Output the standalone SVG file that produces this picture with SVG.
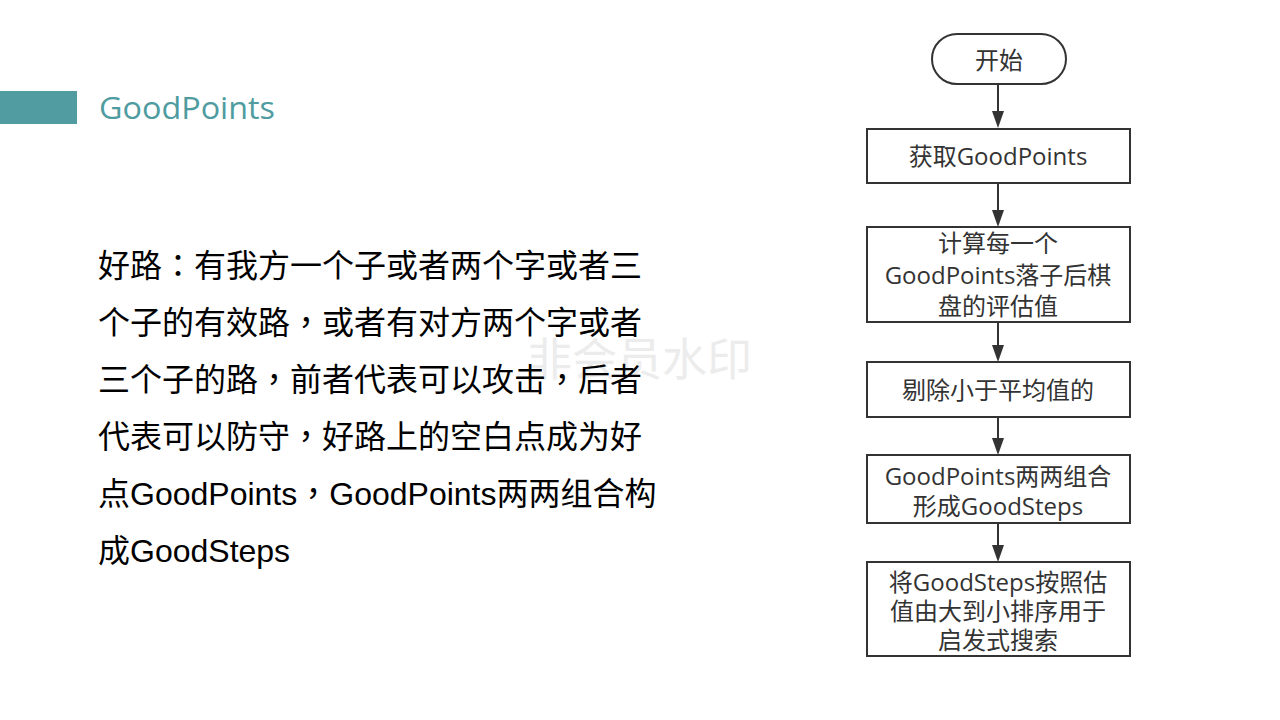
<svg xmlns="http://www.w3.org/2000/svg" width="1280" height="720" viewBox="0 0 1280 720">
<defs>
<style>
.body{font-family:"Liberation Sans","Noto Sans CJK SC",sans-serif;font-size:32px;fill:#000}
.p{font-family:"Noto Sans CJK TC",sans-serif}
.title{font-family:"Open Sans","Noto Sans CJK SC",sans-serif;font-size:31px;fill:#4f9ca0}
.wm{font-family:"Noto Sans CJK SC",sans-serif;font-size:45px;fill:#ececec}
.box{fill:#fff;stroke:#333;stroke-width:2}
.lbl{font-family:"Open Sans","Noto Sans CJK SC",sans-serif;font-size:24px;fill:#333;text-anchor:middle}
.edge{stroke:#333;stroke-width:2;fill:none}
.head{fill:#333}
</style>
</defs>
<rect x="0" y="0" width="1280" height="720" fill="#fff"/>
<g id="header">
<rect x="0" y="91" width="77" height="33" fill="#519ca0"/>
<text class="title" x="99" y="119" textLength="176" lengthAdjust="spacingAndGlyphs">GoodPoints</text>
</g>
<text class="wm" x="527" y="376">非会员水印</text>
<g id="description">
<text class="body" x="98" y="277">好路<tspan class="p">：</tspan>有我方一个子或者两个字或者三</text>
<text class="body" x="98" y="334">个子的有效路<tspan class="p">，</tspan>或者有对方两个字或者</text>
<text class="body" x="98" y="391">三个子的路<tspan class="p">，</tspan>前者代表可以攻击<tspan class="p">，</tspan>后者</text>
<text class="body" x="98" y="448">代表可以防守<tspan class="p">，</tspan>好路上的空白点成为好</text>
<text class="body" x="98" y="505">点GoodPoints<tspan class="p">，</tspan>GoodPoints两两组合构</text>
<text class="body" x="98" y="562">成GoodSteps</text>
</g>
<g id="connectors">
<path class="edge" d="M998,84 V111"/><path class="head" d="M992,111 H1004 L998,128 Z"/>
<path class="edge" d="M998,183 V210"/><path class="head" d="M992,210 H1004 L998,227 Z"/>
<path class="edge" d="M998,322 V345"/><path class="head" d="M992,345 H1004 L998,362 Z"/>
<path class="edge" d="M998,417 V438"/><path class="head" d="M992,438 H1004 L998,455 Z"/>
<path class="edge" d="M998,523 V545"/><path class="head" d="M992,545 H1004 L998,562 Z"/>
</g>
<g id="start">
<rect class="box" x="932" y="34" width="134" height="50" rx="25" ry="25"/>
<text class="lbl" x="999" y="69">开始</text>
</g>
<g id="step1">
<rect class="box" x="867" y="129" width="263" height="54"/>
<text class="lbl" x="998" y="165">获取GoodPoints</text>
</g>
<g id="step2">
<rect class="box" x="867" y="227" width="263" height="95"/>
<text class="lbl" x="998" y="252">计算每一个</text>
<text class="lbl" x="998" y="284">GoodPoints落子后棋</text>
<text class="lbl" x="998" y="315">盘的评估值</text>
</g>
<g id="step3">
<rect class="box" x="867" y="362" width="263" height="55"/>
<text class="lbl" x="998" y="399">剔除小于平均值的</text>
</g>
<g id="step4">
<rect class="box" x="867" y="455" width="263" height="68"/>
<text class="lbl" x="998" y="485">GoodPoints两两组合</text>
<text class="lbl" x="998" y="515">形成GoodSteps</text>
</g>
<g id="step5">
<rect class="box" x="867" y="562" width="263" height="94"/>
<text class="lbl" x="998" y="591">将GoodSteps按照估</text>
<text class="lbl" x="998" y="620">值由大到小排序用于</text>
<text class="lbl" x="998" y="649">启发式搜索</text>
</g>
</svg>
